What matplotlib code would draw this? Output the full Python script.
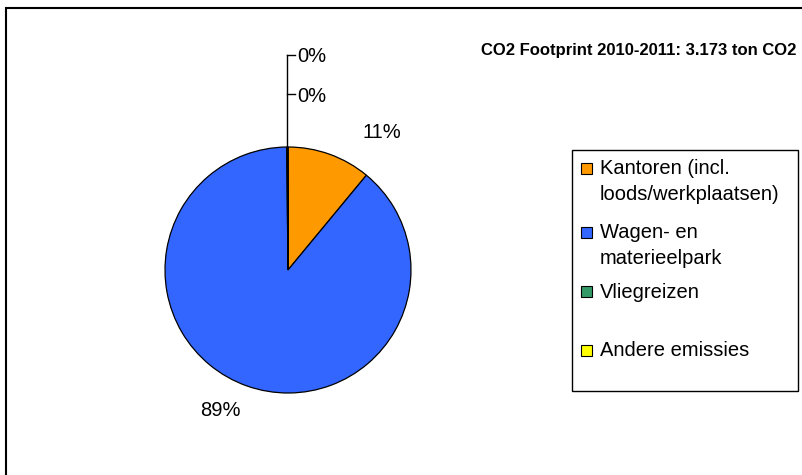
import matplotlib
matplotlib.use('Agg')
import matplotlib.pyplot as plt
from matplotlib.patches import Rectangle

W, H = 802, 475

# data
categories = ['Kantoren (incl.\nloods/werkplaatsen)', 'Wagen- en\nmaterieelpark',
              'Vliegreizen', 'Andere emissies']
values_ton = [349, 2819, 3, 2]
colors = ['#FF9900', '#3366FF', '#339966', '#FFFF00']
title = 'CO2 Footprint 2010-2011: 3.173 ton CO2'

plt.rcParams['font.family'] = ['Liberation Sans', 'DejaVu Sans']

fig = plt.figure(figsize=(W / 100, H / 100), dpi=100)
ax = fig.add_axes([0, 0, 1, 1])


def py(y):
    # pixel row (top-down) -> data y (bottom-up)
    return H - y


cx, cy, r = 288, 270, 123
wedges, _ = ax.pie(values_ton, colors=colors, startangle=90, counterclock=False,
                   center=(cx, py(cy)), radius=r,
                   wedgeprops=dict(edgecolor='black', linewidth=0.9))

total = sum(values_ton)
pct = [f'{round(v / total * 100):.0f}%' for v in values_ton]

# big slice labels
ax.text(382, py(133), pct[0], ha='center', va='center', fontsize=14.5)
ax.text(220, py(410), pct[1], ha='center', va='center', fontsize=14.5)

# tiny slices: leader lines off the top of the pie
ax.plot([cx - 1, cx - 1], [py(cy - r), py(55)], color='black', lw=1.0)
for yy, p in zip([55, 94], pct[2:]):
    ax.plot([cx - 1, 295], [py(yy), py(yy)], color='black', lw=1.0)
    ax.text(297, py(yy + 2), p, ha='left', va='center', fontsize=14.5)

ax.text(796, py(50), title, ha='right', va='center', fontsize=12, fontweight='bold')

# legend
ax.add_patch(Rectangle((572, py(391)), 226, 241, fill=False, edgecolor='black', lw=1.0))
rows_y = [168, 232, 291, 350]
for lab, col, y0 in zip(categories, colors, rows_y):
    ax.add_patch(Rectangle((581, py(y0 + 5.5)), 11, 11, facecolor=col,
                           edgecolor='black', lw=0.8))
    for i, line in enumerate(lab.split('\n')):
        ax.text(600, py(y0 + 1 + i * 25), line, ha='left', va='center',
                fontsize=14.5)

# outer frame (runs off right and bottom edge)
ax.add_patch(Rectangle((6, -10), W + 10, py(8) + 10, fill=False,
                       edgecolor='black', lw=1.5))

ax.set_xlim(0, W)
ax.set_ylim(0, H)
ax.set_aspect('auto')
ax.axis('off')

fig.savefig('out.png', dpi=100)
